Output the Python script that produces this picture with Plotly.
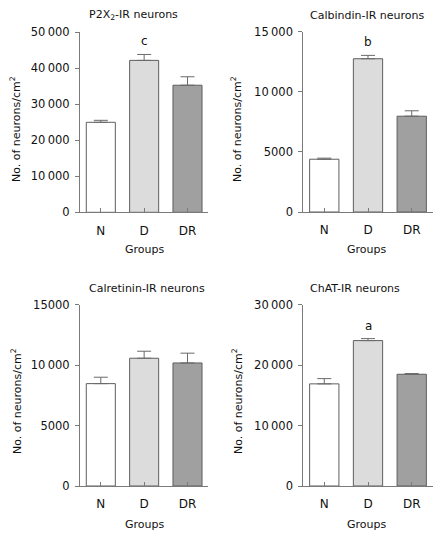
import plotly.graph_objects as go

# page body has a default 8px margin; figure is sized to fill the rest of the window
OFF = 8
W, H = 443 - OFF, 539 - OFF

groups = ["N", "D", "DR"]
bar_colors = ["#ffffff", "#dcdcdc", "#a0a0a0"]

titles = ["P2X<sub>2</sub>-IR neurons", "Calbindin-IR neurons",
          "Calretinin-IR neurons", "ChAT-IR neurons"]

p2x2_mean = [25000, 42200, 35300]
p2x2_sem = [550, 1650, 2350]
calb_mean = [4390, 12750, 7970]
calb_sem = [90, 280, 450]
calr_mean = [8470, 10570, 10180]
calr_sem = [530, 580, 810]
chat_mean = [16900, 24060, 18490]
chat_sem = [870, 330, 110]

sig_p2x2 = ["", "c", ""]
sig_calb = ["", "b", ""]
sig_calr = ["", "", ""]
sig_chat = ["", "a", ""]

ymax = [50000, 15000, 15000, 30000]
ytickvals = [[0, 10000, 20000, 30000, 40000, 50000],
             [0, 5000, 10000, 15000],
             [0, 5000, 10000, 15000],
             [0, 10000, 20000, 30000]]
yticktext = [["0", "10\u2009000", "20\u2009000", "30\u2009000", "40\u2009000", "50\u2009000"],
             ["0", "5000", "10\u2009000", "15\u2009000"],
             ["0", "5000", "10\u2009000", "15000"],
             ["0", "10\u2009000", "20\u2009000", "30\u2009000"]]

means = [p2x2_mean, calb_mean, calr_mean, chat_mean]
sems = [p2x2_sem, calb_sem, calr_sem, chat_sem]
sigs = [sig_p2x2, sig_calb, sig_calr, sig_chat]

FONT = "DejaVu Sans"
AX = "#7a7a7a"

# pixel layout (window coordinates) of each panel: (x0, x1, ytop, ybottom)
panels = [(80, 208.3, 32.3, 212.3), (303.3, 432.7, 31.7, 212.0),
          (80, 208.3, 304.7, 486.0), (303.3, 432.7, 304.7, 486.0)]
title_pos = [(87, 15), (308, 15), (87, 288), (308, 288)]
ylab_pos = [(16, 129), (237, 129), (16, 401), (237, 401)]
group_pos = [(144, 249), (366, 249), (144, 524), (366, 524)]


def px(x):
    return (x - OFF) / W


def py(y):
    return 1 - (y - OFF) / H


fig = go.Figure()
annotations = []
for i in range(4):
    xa = "x" if i == 0 else f"x{i+1}"
    ya = "y" if i == 0 else f"y{i+1}"
    fig.add_trace(go.Bar(
        x=groups, y=means[i], xaxis=xa, yaxis=ya, width=0.67,
        marker=dict(color=bar_colors, line=dict(color="#5e5e5e", width=1)),
        error_y=dict(type="data", symmetric=False, array=sems[i],
                     arrayminus=[0, 0, 0], color="#6a6a6a", thickness=1, width=7),
        showlegend=False, hoverinfo="x+y"))
    x0, x1, yt, yb = panels[i]
    dom_x = [px(x0), px(x1)]
    dom_y = [py(yb), py(yt)]
    xkey = "xaxis" if i == 0 else f"xaxis{i+1}"
    ykey = "yaxis" if i == 0 else f"yaxis{i+1}"
    fig.update_layout(**{
        xkey: dict(domain=dom_x, anchor=ya, range=[-0.48, 2.48], showline=True,
                   linecolor=AX, linewidth=1, ticks="inside", ticklen=4,
                   tickcolor=AX, showgrid=False, zeroline=False, automargin=False,
                   tickfont=dict(family=FONT, size=12, color="#111"),
                   ticklabelstandoff=7, fixedrange=True),
        ykey: dict(domain=dom_y, anchor=xa, range=[0, ymax[i]], showline=True,
                   linecolor=AX, linewidth=1, ticks="outside", ticklen=4,
                   tickcolor=AX, showgrid=False, zeroline=False, automargin=False,
                   tickvals=ytickvals[i], ticktext=yticktext[i],
                   tickfont=dict(family=FONT, size=11.5, color="#111"),
                   ticklabelstandoff=3, fixedrange=True),
    })
    for g, m, s, lab in zip(groups, means[i], sems[i], sigs[i]):
        if lab:
            annotations.append(dict(x=g, y=m + s, xref=xa, yref=ya, text=lab,
                                    showarrow=False, yanchor="middle", yshift=13,
                                    font=dict(family=FONT, size=12, color="#111")))
    tx, ty = title_pos[i]
    annotations.append(dict(x=px(tx), y=py(ty), xref="paper", yref="paper",
                            text=titles[i], showarrow=False, xanchor="left",
                            yanchor="middle",
                            font=dict(family=FONT, size=11, color="#111")))
    lx, ly = ylab_pos[i]
    annotations.append(dict(x=px(lx), y=py(ly), xref="paper", yref="paper",
                            text="No. of neurons/cm<sup>2</sup>", textangle=-90,
                            showarrow=False, xanchor="center", yanchor="middle",
                            font=dict(family=FONT, size=11, color="#111")))
    gx, gy = group_pos[i]
    annotations.append(dict(x=px(gx), y=py(gy), xref="paper", yref="paper",
                            text="Groups", showarrow=False, xanchor="center",
                            yanchor="middle",
                            font=dict(family=FONT, size=11, color="#111")))

fig.update_layout(width=W, height=H, margin=dict(l=0, r=0, t=0, b=0, autoexpand=False),
                  paper_bgcolor="white", plot_bgcolor="white",
                  annotations=annotations, bargap=0.33)

fig.write_html("out.html")
